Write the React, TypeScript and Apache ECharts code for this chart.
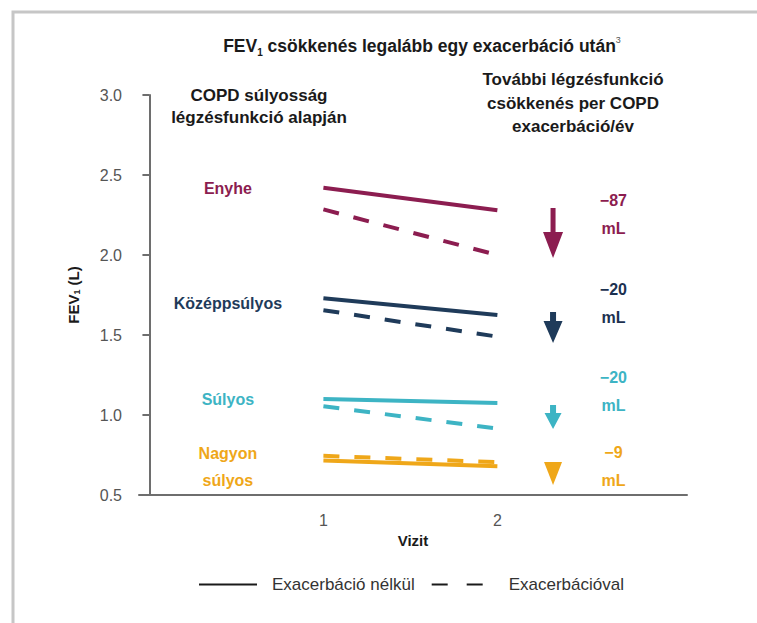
import React, { useEffect, useRef } from "react";
import * as echarts from "echarts";

// ---- data ----
const visits = [1, 2];
const categories = ["Enyhe", "Középpsúlyos", "Súlyos", "Nagyon\nsúlyos"];
const noExacerbation = [
  [2.42, 2.28],
  [1.73, 1.625],
  [1.1, 1.075],
  [0.715, 0.68],
];
const withExacerbation = [
  [2.285, 2.0],
  [1.655, 1.49],
  [1.055, 0.915],
  [0.745, 0.705],
];
const declineValues = ["−87", "−20", "−20", "−9"];
const yTicks = [0.5, 1.0, 1.5, 2.0, 2.5, 3.0];

// ---- annotation anchors (data coordinates) ----
const arrowX = 2.32;
const arrowMid = [2.137, 1.547, 0.9875, 0.634];
const declineTextX = 2.667;
const declineTextMid = [2.256, 1.694, 1.147, 0.678];
// arrow geometry: [width, height, shaftWidth, headHeight]
const arrowGeom = [
  [20, 50, 5, 26],
  [19, 31, 6, 22],
  [17, 24, 6, 16],
  [18, 23, 0, 23],
];
const labelOffsetY = [1, 5, 0, 6];

const colors = ["#8c1d50", "#1f3b5a", "#3db4c4", "#efa719"];
const declineColors = ["#8c1d50", "#1c3150", "#3db4c4", "#efa719"];
const FONT = "Liberation Sans";

function arrowPath(w: number, h: number, s: number, hh: number) {
  if (s <= 0) return `path://M0,0 L${w},0 L${w / 2},${h} Z`;
  const a = (w - s) / 2;
  const b = (w + s) / 2;
  const t = h - hh;
  return `path://M${a},0 L${b},0 L${b},${t} L${w},${t} L${w / 2},${h} L0,${t} L${a},${t} Z`;
}

export default function App() {
  const ref = useRef<HTMLDivElement>(null);
  useEffect(() => {
    if (!ref.current) return;
    const chart = echarts.init(ref.current, undefined, { renderer: "svg" });

    const series: any[] = [];
    categories.forEach((cat, i) => {
      series.push({
        type: "line",
        name: "solid-" + i,
        symbol: "none",
        silent: true,
        lineStyle: { color: colors[i], width: 4, type: "solid" },
        itemStyle: { color: colors[i] },
        z: 3,
        data: [
          [visits[0], noExacerbation[i][0]],
          [visits[1], noExacerbation[i][1]],
        ],
      });
      series.push({
        type: "line",
        name: "dashed-" + i,
        symbol: "none",
        silent: true,
        lineStyle: { color: colors[i], width: 4, type: [16, 15] },
        itemStyle: { color: colors[i] },
        z: 4,
        data: [
          [visits[0], withExacerbation[i][0]],
          [visits[1], withExacerbation[i][1]],
        ],
      });
    });

    // category labels anchored at the start of each solid line
    series.push({
      type: "scatter",
      name: "categoryLabels",
      silent: true,
      symbolSize: 1,
      itemStyle: { color: "rgba(0,0,0,0)", opacity: 1 },
      data: categories.map((cat, i) => ({
        value: [visits[0], noExacerbation[i][0]],
        label: {
          show: true,
          formatter: cat,
          position: "left",
          distance: 95,
          align: "center",
          verticalAlign: "middle",
          offset: [0, labelOffsetY[i]],
          color: colors[i],
          opacity: 1,
          fontFamily: FONT,
          fontWeight: "bold",
          fontSize: 16,
          lineHeight: 27,
        },
      })),
    });

    series.push({
      type: "scatter",
      name: "arrows",
      silent: true,
      data: arrowMid.map((y, i) => ({
        value: [arrowX, y],
        symbol: arrowPath(arrowGeom[i][0], arrowGeom[i][1], arrowGeom[i][2], arrowGeom[i][3]),
        symbolSize: [arrowGeom[i][0], arrowGeom[i][1]],
        itemStyle: { color: colors[i], opacity: 1 },
      })),
    });

    series.push({
      type: "scatter",
      name: "declines",
      silent: true,
      symbolSize: 1,
      itemStyle: { color: "rgba(0,0,0,0)", opacity: 1 },
      data: declineTextMid.map((y, i) => ({
        value: [declineTextX, y],
        label: {
          show: true,
          position: "inside",
          formatter: declineValues[i] + "\nmL",
          color: declineColors[i],
          opacity: 1,
          fontFamily: FONT,
          fontWeight: "bold",
          fontSize: 16,
          lineHeight: 28,
          align: "center",
          verticalAlign: "middle",
        },
      })),
    });

    // legend dummies
    series.push({
      type: "line",
      name: "Exacerbáció nélkül",
      symbol: "none",
      lineStyle: { color: "#1a1a1a", width: 4, type: "solid" },
      itemStyle: { color: "#1a1a1a" },
      data: [],
    });
    series.push({
      type: "line",
      name: "Exacerbációval",
      symbol: "none",
      lineStyle: { color: "#1a1a1a", width: 4, type: [16, 19] },
      itemStyle: { color: "#1a1a1a" },
      data: [],
    });

    const headerStyle = {
      fontFamily: FONT,
      fontWeight: "bold",
      fontSize: 17,
      color: "#1a1a1a",
    };

    chart.setOption({
      animation: false,
      backgroundColor: "#ffffff",
      title: [
        {
          text: "FEV{sub|1} csökkenés legalább egy exacerbáció után{sup|3}",
          left: 422,
          top: 35,
          textAlign: "center",
          padding: 0,
          textStyle: {
            ...headerStyle,
            fontSize: 17.5,
            lineHeight: 20,
            rich: {
              sub: { fontSize: 10, verticalAlign: "bottom", lineHeight: 14, fontFamily: FONT, color: "#1a1a1a", fontWeight: "bold" },
              sup: { fontSize: 9, verticalAlign: "top", lineHeight: 22, fontFamily: FONT, color: "#555", fontWeight: "normal" },
            },
          },
        },
        {
          text: "COPD súlyosság\nlégzésfunkció alapján",
          left: 259,
          top: 84,
          textAlign: "center",
          padding: 0,
          textStyle: { ...headerStyle, lineHeight: 22 },
        },
        {
          text: "További légzésfunkció\ncsökkenés per COPD\nexacerbáció/év",
          left: 573,
          top: 68,
          textAlign: "center",
          padding: 0,
          textStyle: { ...headerStyle, lineHeight: 23.5 },
        },
      ],
      legend: {
        left: 198,
        top: 576,
        padding: 0,
        itemWidth: 58,
        itemHeight: 14,
        itemGap: 16,
        selectedMode: false,
        itemStyle: { color: "rgba(0,0,0,0)", borderWidth: 0, opacity: 0 },
        data: [
          {
            name: "Exacerbáció nélkül",
            textStyle: { padding: [0, 0, 0, 10] },
          },
          {
            name: "Exacerbációval",
            textStyle: { padding: [0, 0, 0, 14] },
          },
        ],
        textStyle: { fontFamily: FONT, fontSize: 17, color: "#333" },
      },
      grid: { left: 139, top: 95, right: 70, bottom: 128, containLabel: false },
      xAxis: {
        type: "value",
        min: -0.06,
        max: 3.09,
        name: "Vizit",
        nameLocation: "middle",
        nameGap: 30,
        nameTextStyle: { fontFamily: FONT, fontWeight: "bold", fontSize: 15, color: "#1a1a1a" },
        axisLine: { show: true, lineStyle: { color: "#6e6e6e", width: 2 } },
        axisTick: { show: false },
        splitLine: { show: false },
        axisLabel: {
          customValues: visits,
          margin: 17,
          color: "#555",
          fontFamily: FONT,
          fontSize: 16,
        },
      },
      yAxis: {
        type: "value",
        min: 0.5,
        max: 3.0,
        interval: 0.5,
        name: "FEV{sub|1} (L)",
        nameLocation: "middle",
        nameGap: 58,
        nameTextStyle: {
          fontFamily: FONT,
          fontWeight: "bold",
          fontSize: 15,
          color: "#1a1a1a",
          rich: {
            sub: { fontSize: 9, verticalAlign: "bottom", fontFamily: FONT, fontWeight: "bold", color: "#1a1a1a" },
          },
        },
        axisLine: { show: true, lineStyle: { color: "#6e6e6e", width: 2 } },
        axisTick: { show: true, length: 7, lineStyle: { color: "#6e6e6e", width: 2 } },
        splitLine: { show: false },
        axisLabel: {
          margin: 17,
          color: "#555",
          fontFamily: FONT,
          fontSize: 16,
          formatter: (v: number) => (yTicks.includes(v) ? v.toFixed(1) : ""),
        },
      },
      graphic: [
        {
          type: "polyline",
          silent: true,
          shape: { points: [[13, 623], [13, 12], [757, 12]] },
          style: { stroke: "#c6c6c6", lineWidth: 3, fill: "none" },
        },
      ],
      series,
    });

    return () => chart.dispose();
  }, []);

  return (
    <div
      ref={ref}
      style={{ position: "absolute", left: 0, top: 0, width: 757, height: 623 }}
    />
  );
}
